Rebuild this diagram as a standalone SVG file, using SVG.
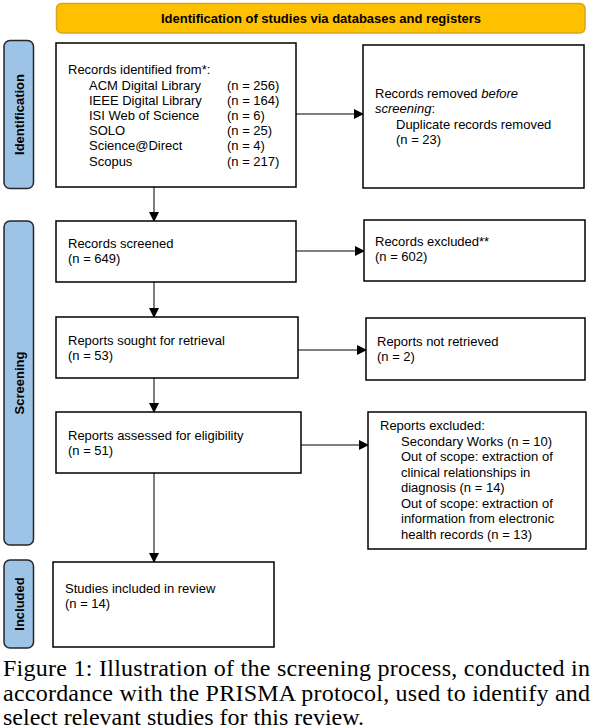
<svg xmlns="http://www.w3.org/2000/svg" width="592" height="728" viewBox="0 0 592 728">
<defs>
<marker id="ah" markerWidth="10" markerHeight="10" refX="9" refY="5" orient="auto" markerUnits="userSpaceOnUse">
<path d="M0,0 L10,5 L0,10 Z" fill="#000"/>
</marker>
<style>
.t{font-family:"Liberation Sans",Arial,sans-serif;font-size:13px;fill:#000}
.hb{font-family:"Liberation Sans",Arial,sans-serif;font-size:13px;font-weight:bold;fill:#000}
.box{fill:#fff;stroke:#000;stroke-width:1.5}
.side{fill:#9DC3E6;stroke:#262626;stroke-width:1.5}
.hdr{fill:#FFC000;stroke:#D9A520;stroke-width:1.5}
.vl{stroke:#555;stroke-width:1.5;fill:none}
.hl{stroke:#000;stroke-width:1.2;fill:none}
.cap{font-family:"Liberation Serif","Times New Roman",serif;font-size:24px;fill:#000}
</style>
</defs>

<g id="header">
<rect class="hdr" x="56.5" y="3.5" width="528.5" height="29.5" rx="5"/>
<text class="hb" x="321" y="22.5" text-anchor="middle">Identification of studies via databases and registers</text>
</g>

<g id="side-identification">
<rect class="side" x="4" y="40.5" width="29.5" height="148" rx="6"/>
<text class="hb" transform="translate(23.5,114.5) rotate(-90)" text-anchor="middle">Identification</text>
</g>
<g id="side-screening">
<rect class="side" x="4" y="221" width="29.5" height="324" rx="6"/>
<text class="hb" transform="translate(23.5,383) rotate(-90)" text-anchor="middle">Screening</text>
</g>
<g id="side-included">
<rect class="side" x="4" y="560" width="29.5" height="88" rx="6"/>
<text class="hb" transform="translate(23.5,604) rotate(-90)" text-anchor="middle">Included</text>
</g>

<g id="connectors">
<line class="vl" x1="154" y1="187" x2="154" y2="221" marker-end="url(#ah)"/>
<line class="vl" x1="154" y1="282" x2="154" y2="317" marker-end="url(#ah)"/>
<line class="vl" x1="154" y1="378" x2="154" y2="412" marker-end="url(#ah)"/>
<line class="vl" x1="154" y1="473" x2="154" y2="562" marker-end="url(#ah)"/>
<line class="hl" x1="296" y1="114" x2="363" y2="114" marker-end="url(#ah)"/>
<line class="hl" x1="296" y1="251" x2="364" y2="251" marker-end="url(#ah)"/>
<line class="hl" x1="298" y1="350" x2="366" y2="350" marker-end="url(#ah)"/>
<line class="hl" x1="301" y1="445" x2="368" y2="445" marker-end="url(#ah)"/>
</g>

<g id="records-identified">
<rect class="box" x="56" y="43" width="240" height="144"/>
<text class="t" x="68" y="74">Records identified from*:</text>
<text class="t" x="89" y="89.5">ACM Digital Library</text><text class="t" x="227" y="89.5">(n = 256)</text>
<text class="t" x="89" y="104.7">IEEE Digital Library</text><text class="t" x="227" y="104.7">(n = 164)</text>
<text class="t" x="89" y="119.9">ISI Web of Science</text><text class="t" x="227" y="119.9">(n = 6)</text>
<text class="t" x="89" y="135.1">SOLO</text><text class="t" x="227" y="135.1">(n = 25)</text>
<text class="t" x="89" y="150.3">Science@Direct</text><text class="t" x="227" y="150.3">(n = 4)</text>
<text class="t" x="89" y="165.5">Scopus</text><text class="t" x="227" y="165.5">(n = 217)</text>
</g>

<g id="records-removed">
<rect class="box" x="363" y="45" width="221" height="143"/>
<text class="t" x="375" y="98">Records removed <tspan font-style="italic">before</tspan></text>
<text class="t" x="375" y="113"><tspan font-style="italic">screening</tspan>:</text>
<text class="t" x="396" y="129">Duplicate records removed</text>
<text class="t" x="396" y="144">(n = 23)</text>
</g>

<g id="records-screened">
<rect class="box" x="56" y="221" width="240" height="61"/>
<text class="t" x="68" y="248">Records screened</text>
<text class="t" x="68" y="263">(n = 649)</text>
</g>

<g id="records-excluded">
<rect class="box" x="364" y="220" width="221" height="61"/>
<text class="t" x="375" y="246">Records excluded**</text>
<text class="t" x="375" y="261">(n = 602)</text>
</g>

<g id="reports-sought">
<rect class="box" x="56" y="317" width="242" height="61"/>
<text class="t" x="68" y="344.5">Reports sought for retrieval</text>
<text class="t" x="68" y="359.5">(n = 53)</text>
</g>

<g id="reports-not-retrieved">
<rect class="box" x="366" y="318" width="219" height="62"/>
<text class="t" x="377" y="345.5">Reports not retrieved</text>
<text class="t" x="377" y="360.5">(n = 2)</text>
</g>

<g id="reports-assessed">
<rect class="box" x="56" y="412" width="245" height="61"/>
<text class="t" x="68" y="440">Reports assessed for eligibility</text>
<text class="t" x="68" y="455">(n = 51)</text>
</g>

<g id="reports-excluded">
<rect class="box" x="368" y="412" width="218" height="137"/>
<text class="t" x="380" y="430">Reports excluded:</text>
<text class="t" x="401" y="445.5">Secondary Works (n = 10)</text>
<text class="t" x="401" y="461">Out of scope: extraction of</text>
<text class="t" x="401" y="476.5">clinical relationships in</text>
<text class="t" x="401" y="492">diagnosis (n = 14)</text>
<text class="t" x="401" y="507.5">Out of scope: extraction of</text>
<text class="t" x="401" y="523">information from electronic</text>
<text class="t" x="401" y="538.5">health records (n = 13)</text>
</g>

<g id="studies-included">
<rect class="box" x="53" y="562" width="221" height="85"/>
<text class="t" x="65" y="593">Studies included in review</text>
<text class="t" x="65" y="608">(n = 14)</text>
</g>

<g id="caption">
<text class="cap" x="3" y="676" textLength="587" lengthAdjust="spacing">Figure 1: Illustration of the screening process, conducted in</text>
<text class="cap" x="3" y="700.5" textLength="587" lengthAdjust="spacing">accordance with the PRISMA protocol, used to identify and</text>
<text class="cap" x="3" y="725">select relevant studies for this review.</text>
</g>
</svg>
